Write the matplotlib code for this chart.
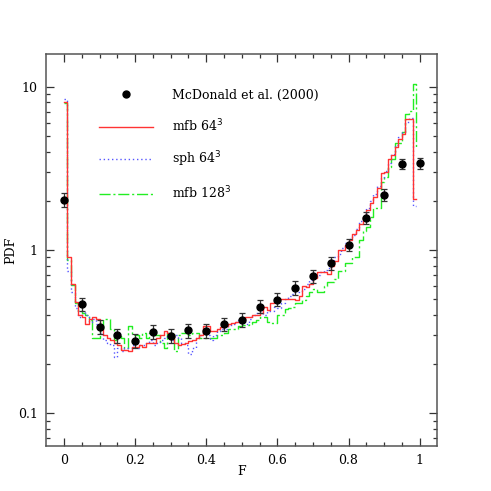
import numpy as np
import matplotlib
matplotlib.use("Agg")
import matplotlib.pyplot as plt
from matplotlib.lines import Line2D
from matplotlib.ticker import FixedLocator, NullFormatter, FixedFormatter

plt.rcParams["font.family"] = ["DejaVu Serif"]

# histogram bins, width 0.01 from F=0 to F=0.99
BIN_W = 0.01
N_BINS = 99

# mfb 64^3 (red, solid)
mfb64 = [8.1, 0.91, 0.62, 0.48, 0.40, 0.39, 0.35, 0.38, 0.39, 0.38,
         0.33, 0.30, 0.29, 0.28, 0.27, 0.26, 0.245, 0.245, 0.24, 0.255,
         0.255, 0.26, 0.255, 0.27, 0.27, 0.27, 0.29, 0.30, 0.32, 0.31,
         0.30, 0.27, 0.26, 0.265, 0.27, 0.275, 0.28, 0.29, 0.30, 0.34,
         0.34, 0.32, 0.32, 0.33, 0.335, 0.34, 0.35, 0.355, 0.36, 0.36,
         0.37, 0.39, 0.39, 0.40, 0.40, 0.41, 0.45, 0.43, 0.47, 0.48,
         0.50, 0.50, 0.50, 0.50, 0.50, 0.49, 0.52, 0.60, 0.59, 0.62,
         0.67, 0.735, 0.735, 0.735, 0.71, 0.80, 0.86, 1.0, 1.0, 1.07,
         1.15, 1.26, 1.32, 1.45, 1.6, 1.75, 1.93, 2.12, 2.4, 2.95,
         3.0, 3.6, 3.8, 4.3, 4.8, 5.1, 6.3, 6.3, 2.05]
mfb64_end = 2.05

# sph 64^3 (blue, dotted)
sph64 = [8.4, 0.74, 0.55, 0.44, 0.39, 0.42, 0.40, 0.36, 0.38, 0.35,
         0.31, 0.28, 0.27, 0.26, 0.22, 0.25, 0.24, 0.25, 0.25, 0.26,
         0.25, 0.26, 0.26, 0.27, 0.28, 0.26, 0.27, 0.28, 0.29, 0.30,
         0.28, 0.30, 0.29, 0.27, 0.26, 0.23, 0.25, 0.29, 0.30, 0.31,
         0.30, 0.28, 0.30, 0.32, 0.33, 0.33, 0.34, 0.35, 0.36, 0.37,
         0.36, 0.35, 0.38, 0.40, 0.41, 0.43, 0.40, 0.42, 0.42, 0.45,
         0.44, 0.47, 0.50, 0.52, 0.54, 0.55, 0.56, 0.58, 0.62, 0.65,
         0.68, 0.70, 0.73, 0.75, 0.78, 0.84, 0.90, 0.95, 1.03, 1.10,
         1.16, 1.24, 1.35, 1.50, 1.62, 1.80, 2.00, 2.20, 2.45, 2.75,
         3.05, 3.40, 3.85, 4.40, 4.90, 5.30, 6.10, 6.40, 1.85]
sph64_end = 1.85

# mfb 128^3 (green, dash-dot)
mfb128 = [7.9, 0.87, 0.61, 0.47, 0.42, 0.41, 0.40, 0.37, 0.29, 0.29,
          0.33, 0.38, 0.38, 0.33, 0.28, 0.30, 0.29, 0.25, 0.34, 0.30,
          0.30, 0.29, 0.31, 0.29, 0.31, 0.30, 0.30, 0.27, 0.25, 0.31,
          0.31, 0.24, 0.30, 0.31, 0.31, 0.30, 0.31, 0.31, 0.29, 0.29,
          0.29, 0.29, 0.29, 0.30, 0.30, 0.31, 0.33, 0.33, 0.33, 0.34,
          0.345, 0.345, 0.35, 0.36, 0.37, 0.39, 0.39, 0.36, 0.355, 0.355,
          0.40, 0.40, 0.435, 0.44, 0.45, 0.47, 0.47, 0.49, 0.52, 0.55,
          0.58, 0.55, 0.55, 0.60, 0.64, 0.64, 0.66, 0.74, 0.74, 0.83,
          0.83, 0.91, 0.91, 1.15, 1.3, 1.39, 1.6, 1.8, 1.8, 2.6,
          2.8, 3.2, 3.6, 4.5, 4.5, 5.3, 6.8, 7.1, 10.4]
mfb128_end = 4.3

# McDonald et al. (2000) points
obs_F = [0.0, 0.05, 0.10, 0.15, 0.20, 0.25, 0.30, 0.35, 0.40, 0.45, 0.50,
         0.55, 0.60, 0.65, 0.70, 0.75, 0.80, 0.85, 0.90, 0.95, 1.00]
obs_pdf = [2.02, 0.465, 0.339, 0.30, 0.278, 0.316, 0.299, 0.322, 0.319,
           0.352, 0.373, 0.45, 0.496, 0.588, 0.69, 0.832, 1.07, 1.57,
           2.18, 3.36, 3.40]
obs_err = [0.20, 0.045, 0.032, 0.03, 0.027, 0.032, 0.03, 0.032, 0.032,
           0.033, 0.035, 0.042, 0.045, 0.055, 0.06, 0.075, 0.09, 0.13,
           0.18, 0.25, 0.28]

x_ticks = [0, 0.2, 0.4, 0.6, 0.8, 1]
x_labels = ["0", "0.2", "0.4", "0.6", "0.8", "1"]
y_ticks = [0.1, 1, 10]
y_labels = ["0.1", "1", "10"]

RED, BLUE, GREEN = "#ff3333", "#5555ff", "#22ee22"
DOT = (0, (1, 2))
DASHDOT = (0, (8, 2, 1.5, 2))

edges = np.arange(N_BINS + 1) * BIN_W

fig = plt.figure(figsize=(4.91, 4.91), dpi=100)
ax = fig.add_axes([0.094, 0.092, 0.797, 0.798])

ax.errorbar(obs_F, obs_pdf, yerr=obs_err, fmt="o", color="black", ms=5,
            ecolor="#333333", elinewidth=0.9, capsize=2.5, capthick=0.9,
            zorder=4)
ax.step(edges, mfb64 + [mfb64_end], where="post", color=RED, lw=1.0, zorder=3)
ax.step(edges, sph64 + [sph64_end], where="post", color=BLUE, lw=1.0,
        ls=DOT, zorder=2)
ax.step(edges, mfb128 + [mfb128_end], where="post", color=GREEN, lw=1.0,
        ls=DASHDOT, zorder=1)

ax.set_yscale("log")
ax.set_xlim(-0.05, 1.05)
ax.set_ylim(10 ** -1.2, 10 ** 1.2)

ax.xaxis.set_major_locator(FixedLocator(x_ticks))
ax.xaxis.set_major_formatter(FixedFormatter(x_labels))
ax.xaxis.set_minor_locator(FixedLocator(np.arange(0, 1.001, 0.05)))
ax.yaxis.set_major_locator(FixedLocator(y_ticks))
ax.yaxis.set_major_formatter(FixedFormatter(y_labels))
minor_y = [m * d for d in (0.01, 0.1, 1, 10) for m in range(2, 10)]
ax.yaxis.set_minor_locator(FixedLocator(minor_y))
ax.yaxis.set_minor_formatter(NullFormatter())

ax.tick_params(which="both", direction="in", top=True, right=True,
               width=0.9, color="#333333", labelsize=9)
ax.tick_params(which="major", length=6, pad=6)
ax.tick_params(which="minor", length=3)
for s in ax.spines.values():
    s.set_linewidth(1.1)
    s.set_color("#555555")

ax.set_xlabel("F", fontsize=9)
ax.set_ylabel("PDF", fontsize=9)
ax.xaxis.set_label_coords(0.5, -0.048)
ax.yaxis.set_label_coords(-0.074, 0.5)

handles = [
    Line2D([], [], ls="none", marker="o", ms=5, color="black"),
    Line2D([], [], color=RED, lw=1.0),
    Line2D([], [], color=BLUE, lw=1.0, ls=DOT),
    Line2D([], [], color=GREEN, lw=1.0, ls=DASHDOT),
]
labels = ["McDonald et al. (2000)", "mfb 64$^3$", "sph 64$^3$", "mfb 128$^3$"]
ax.legend(handles, labels, loc="upper left", bbox_to_anchor=(0.107, 0.94),
          frameon=False, fontsize=9, handlelength=4.3, handletextpad=1.5,
          labelspacing=1.25, numpoints=1)

fig.savefig("out.png", dpi=100)
